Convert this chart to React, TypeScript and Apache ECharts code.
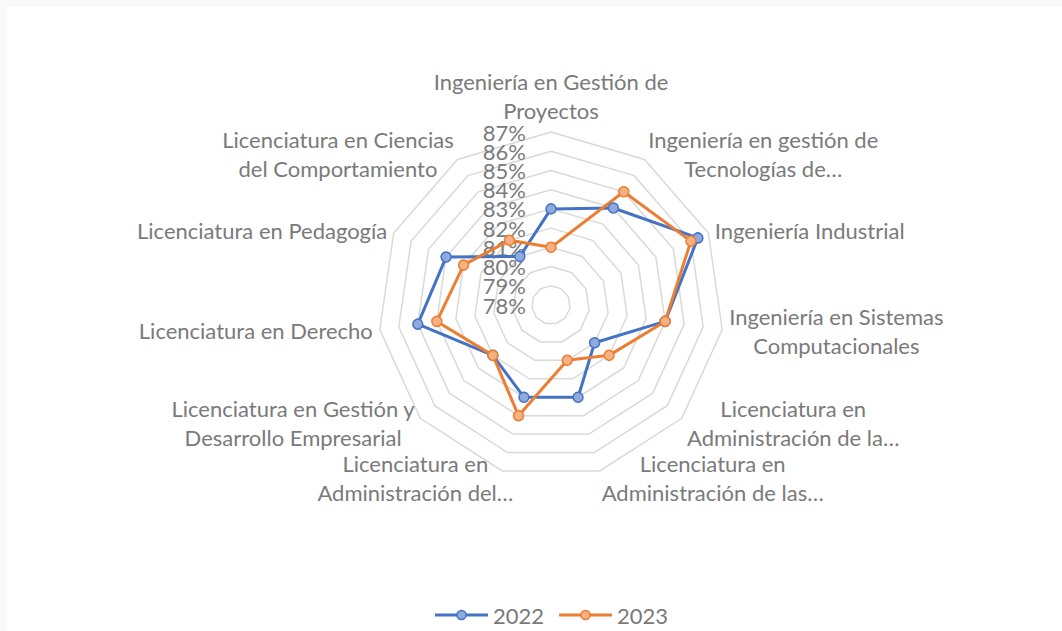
import React, { useEffect, useRef } from "react";
import * as echarts from "echarts";

const categories = [
  "Ingeniería en Gestión de\nProyectos",
  "Ingeniería en gestión de\nTecnologías de…",
  "Ingeniería Industrial",
  "Ingeniería en Sistemas\nComputacionales",
  "Licenciatura en\nAdministración de la…",
  "Licenciatura en\nAdministración de las…",
  "Licenciatura en\nAdministración del…",
  "Licenciatura en Gestión y\nDesarrollo Empresarial",
  "Licenciatura en Derecho",
  "Licenciatura en Pedagogía",
  "Licenciatura en Ciencias\ndel Comportamiento",
];

const values2022 = [83, 84, 86.4, 84, 81, 83, 83, 82, 85, 84, 81];
const values2023 = [81, 85, 86, 84, 82, 81, 84, 82, 84, 83, 82];

const axisMin = 78;
const axisMax = 87;
const tickStep = 1;

const seriesNames = ["2022", "2023"];
const lineColors = ["#4472C4", "#ED7D31"];
const fillColors = ["#8FAADC", "#F4B183"];

const FONT = "Lato";
const TEXT_COLOR = "#7a7a7a";

function legendIcon(line: string, fill: string) {
  const svg =
    `<svg xmlns="http://www.w3.org/2000/svg" width="53" height="12" viewBox="0 0 53 12">` +
    `<line x1="0" y1="6" x2="53" y2="6" stroke="${line}" stroke-width="3"/>` +
    `<circle cx="26.5" cy="6" r="4.6" fill="${fill}" stroke="${line}" stroke-width="1.5"/>` +
    `</svg>`;
  return "image://data:image/svg+xml;charset=utf-8," + encodeURIComponent(svg);
}

export default function App() {
  const ref = useRef<HTMLDivElement>(null);

  useEffect(() => {
    document.body.style.margin = "0";
    if (!ref.current) return;
    const chart = echarts.init(ref.current, undefined, { renderer: "svg" });

    // ECharts radar runs counter-clockwise; reorder so categories read clockwise
    const order = [0, ...categories.map((_, i) => i).slice(1).reverse()];
    const makeIndicators = (withNames: boolean) =>
      order.map((idx, k) => {
        const ind: any = {
          name: withNames ? categories[idx] : "",
          min: axisMin,
          max: axisMax,
        };
        if (k === 0) ind.axisLabel = { show: true };
        if (withNames && idx === 6) ind.nameTextStyle = { padding: [0, -13, 0, 0] };
        return ind;
      });
    const reorder = (arr: number[]) => order.map((i) => arr[i]);
    const allValues = [values2022, values2023];

    const center = [551, 305];
    const radius = 173;
    const splitNumber = (axisMax - axisMin) / tickStep;
    const labelBase = {
      show: false,
      hideOverlap: false,
      fontFamily: FONT,
      fontSize: 22,
      color: TEXT_COLOR,
      margin: 25,
    };

    const option: any = {
      animation: false,
      backgroundColor: "transparent",
      graphic: [
        {
          type: "rect",
          left: 7,
          top: 7,
          shape: { width: 1055, height: 624 },
          style: { fill: "#ffffff" },
          z: -10,
          silent: true,
        },
      ],
      legend: {
        left: 430,
        top: 599,
        itemWidth: 53,
        itemHeight: 12,
        itemGap: 15,
        textStyle: { fontFamily: FONT, fontSize: 22, color: TEXT_COLOR },
        data: seriesNames.map((n, i) => ({
          name: n,
          icon: legendIcon(lineColors[i], fillColors[i]),
        })),
        selectedMode: false,
      },
      radar: [
        {
          center,
          radius,
          startAngle: 90,
          shape: "polygon",
          splitNumber,
          nameGap: 7,
          axisName: {
            color: TEXT_COLOR,
            fontFamily: FONT,
            fontSize: 22,
            formatter: (name: string) =>
              name
                .split("\n")
                .map((l) => `{c|${l}}`)
                .join("\n"),
            rich: {
              c: {
                align: "center",
                fontFamily: FONT,
                fontSize: 22,
                color: TEXT_COLOR,
                lineHeight: 29,
              },
            },
          },
          axisLine: { show: false },
          axisTick: { show: false },
          splitArea: { show: false },
          splitLine: { lineStyle: { color: "#d9d9d9", width: 1.5 } },
          axisLabel: {
            ...labelBase,
            showMinLabel: false,
            showMaxLabel: false,
            formatter: (v: number) => `${v}%`,
          },
          indicator: makeIndicators(true),
        },
        {
          center,
          radius,
          startAngle: 90,
          shape: "polygon",
          splitNumber,
          axisName: { show: false },
          axisLine: { show: false },
          axisTick: { show: false },
          splitArea: { show: false },
          splitLine: { show: false },
          axisLabel: {
            ...labelBase,
            showMinLabel: true,
            showMaxLabel: true,
            formatter: (v: number) =>
              v === axisMin || v === axisMax ? `${v}%` : "",
          },
          indicator: makeIndicators(false),
        },
      ],
      series: [
        {
          type: "radar",
          radarIndex: 0,
          data: seriesNames.map((n, i) => ({
            name: n,
            value: reorder(allValues[i]),
            symbol: "circle",
            symbolSize: 10,
            lineStyle: { color: lineColors[i], width: 3 },
            itemStyle: {
              color: fillColors[i],
              borderColor: lineColors[i],
              borderWidth: 1.5,
            },
          })),
        },
      ],
    };
    chart.setOption(option);
    return () => chart.dispose();
  }, []);

  return (
    <div
      ref={ref}
      style={{
        position: "absolute",
        left: 0,
        top: 0,
        width: 1062,
        height: 631,
        background: "#f9f9f9",
      }}
    />
  );
}
